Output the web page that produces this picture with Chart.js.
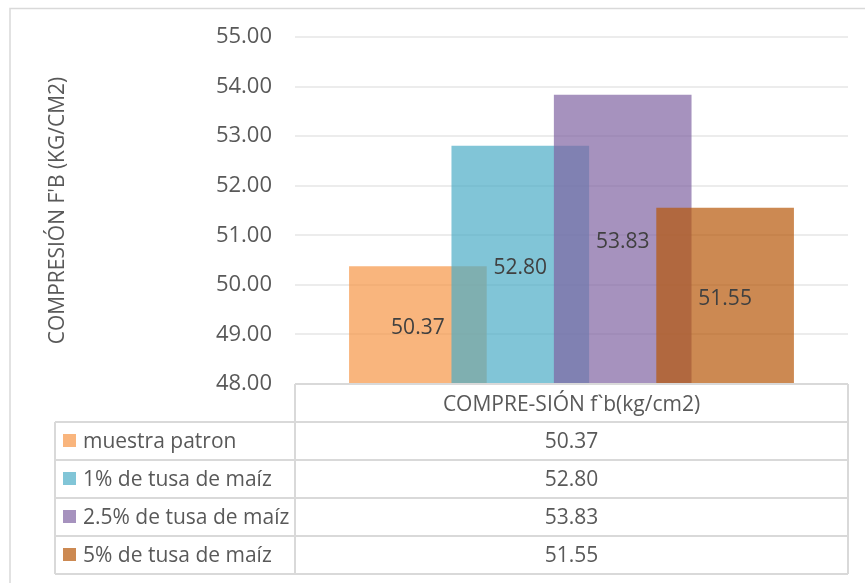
<!DOCTYPE html>
<html>
<head>
<meta charset="utf-8">
<script src="https://cdn.jsdelivr.net/npm/chart.js@4.4.0/dist/chart.umd.min.js"></script>
<style>
html,body{margin:0;padding:0;background:#fff}
#wrap{width:865px;height:583px;position:relative}
</style>
</head>
<body>
<div id="wrap"><canvas id="grafico" width="865" height="583"></canvas></div>
<script>
// datos
const categorias = ['muestra patron', '1% de tusa de maíz', '2.5% de tusa de maíz', '5% de tusa de maíz'];
const valores = [50.37, 52.80, 53.83, 51.55];
const encabezado = 'COMPRE-SIÓN f`b(kg/cm2)';
const tituloEje = "COMPRESIÓN F'B (KG/CM2)";
const ejeMin = 48;
const ejeMax = 55;

const colores = ['rgba(247,150,70,0.7)', 'rgba(75,172,198,0.7)', 'rgba(128,100,162,0.7)', 'rgba(182,87,8,0.7)'];
const fuente = '"Open Sans", sans-serif';
const gris = '#595959';

const tabla = {
  id: 'tabla',
  beforeDraw(chart) {
    const ctx = chart.ctx;
    ctx.save();
    ctx.fillStyle = '#fff';
    ctx.fillRect(0, 0, chart.width, chart.height);
    ctx.strokeStyle = '#d9d9d9';
    ctx.lineWidth = 1.5;
    ctx.beginPath();
    ctx.moveTo(10, chart.height);
    ctx.lineTo(10, 8.5);
    ctx.lineTo(chart.width, 8.5);
    ctx.stroke();
    ctx.restore();
  },
  afterDraw(chart) {
    const {ctx, chartArea} = chart;
    const izq = 55, alto = 38, arriba = chartArea.bottom;
    const abajo = arriba + alto * (categorias.length + 1);
    ctx.save();
    ctx.strokeStyle = '#d9d9d9';
    ctx.lineWidth = 2;
    ctx.beginPath();
    ctx.moveTo(chartArea.left, arriba);
    ctx.lineTo(chartArea.right, arriba);
    for (let i = 1; i <= categorias.length + 1; i++) {
      ctx.moveTo(izq, arriba + alto * i);
      ctx.lineTo(chartArea.right, arriba + alto * i);
    }
    ctx.moveTo(izq, arriba + alto);
    ctx.lineTo(izq, abajo);
    ctx.moveTo(chartArea.left, arriba);
    ctx.lineTo(chartArea.left, abajo);
    ctx.moveTo(chartArea.right, arriba);
    ctx.lineTo(chartArea.right, abajo);
    ctx.stroke();

    ctx.font = '21px ' + fuente;
    ctx.fillStyle = gris;
    ctx.textBaseline = 'middle';
    ctx.textAlign = 'center';
    const centro = (chartArea.left + chartArea.right) / 2;
    ctx.fillText(encabezado, centro, arriba + alto / 2 + 2);
    for (let i = 0; i < categorias.length; i++) {
      const y = arriba + alto * (i + 1) + alto / 2;
      ctx.textAlign = 'center';
      ctx.fillStyle = gris;
      ctx.fillText(valores[i].toFixed(2), centro, y + 1);
      ctx.fillStyle = colores[i];
      ctx.fillRect(63, y - 7, 13, 13);
      ctx.textAlign = 'left';
      ctx.fillStyle = gris;
      ctx.fillText(categorias[i], 83, y + 1);
    }
    ctx.restore();
  }
};

const etiquetas = {
  id: 'etiquetas',
  afterDatasetsDraw(chart) {
    const ctx = chart.ctx;
    const ex = chart.scales.x, ey = chart.scales.y;
    ctx.save();
    ctx.font = '21px ' + fuente;
    ctx.fillStyle = '#404040';
    ctx.textAlign = 'center';
    ctx.textBaseline = 'middle';
    valores.forEach((v, i) => {
      ctx.fillText(v.toFixed(2), ex.getPixelForValue(i), ey.getPixelForValue((ejeMin + v) / 2) + 3);
    });
    ctx.restore();
  }
};

const grafico = new Chart(document.getElementById('grafico'), {
  type: 'bar',
  data: {
    datasets: categorias.map((nombre, i) => ({
      label: nombre,
      data: [{x: i, y: valores[i]}],
      backgroundColor: colores[i],
      borderWidth: 0,
      barThickness: 137,
      order: -i
    }))
  },
  options: {
    responsive: false,
    animation: false,
    grouped: false,
    layout: {padding: {top: 37, bottom: 199, right: 17, left: 0}},
    plugins: {legend: {display: false}, tooltip: {enabled: false}},
    scales: {
      x: {
        type: 'linear',
        display: false,
        offset: false,
        min: -1.2,
        max: 4.2
      },
      y: {
        min: ejeMin,
        max: ejeMax,
        afterFit(scale) { scale.width = 295; },
        border: {display: false},
        grid: {color: '#ececec', lineWidth: 2, drawTicks: false},
        ticks: {
          stepSize: 1,
          padding: 23,
          color: gris,
          font: {family: fuente, size: 22},
          callback: v => v.toFixed(2)
        },
        title: {
          display: true,
          text: tituloEje,
          color: gris,
          font: {family: fuente, size: 21},
          padding: {top: 45, bottom: 0}
        }
      }
    }
  },
  plugins: [tabla, etiquetas]
});
</script>
</body>
</html>
